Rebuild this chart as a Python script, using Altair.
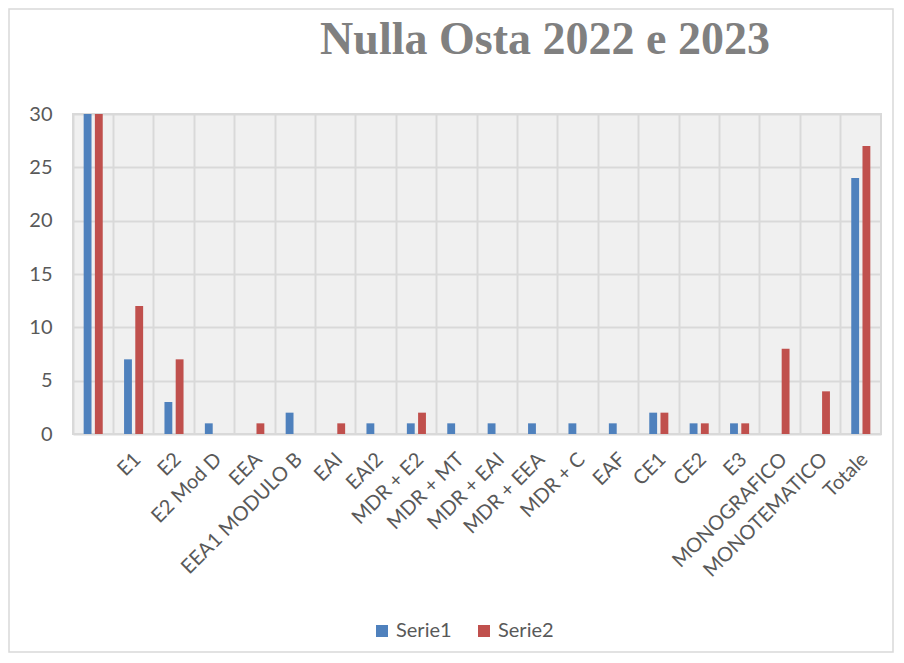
import altair as alt
import pandas as pd

chart_title = "Nulla Osta 2022 e 2023"
categories = ["", "E1", "E2", "E2 Mod D", "EEA", "EEA1 MODULO B", "EAI", "EAI2",
              "MDR + E2", "MDR + MT", "MDR + EAI", "MDR + EEA", "MDR + C", "EAF",
              "CE1", "CE2", "E3", "MONOGRAFICO", "MONOTEMATICO", "Totale"]
serie1 = [34, 7, 3, 1, 0, 2, 0, 1, 1, 1, 1, 1, 1, 1, 2, 1, 1, 0, 0, 24]
serie2 = [36, 12, 7, 0, 1, 0, 1, 0, 2, 0, 0, 0, 0, 0, 2, 1, 1, 8, 4, 27]
series_names = ["Serie1", "Serie2"]
colors = ["#4F81BD", "#C0504D"]

rows = []
for i, c in enumerate(categories):
    rows.append({"cat": c, "serie": series_names[0], "val": serie1[i]})
    rows.append({"cat": c, "serie": series_names[1], "val": serie2[i]})
df = pd.DataFrame(rows)

font = "Lato"
bars = alt.Chart(df).mark_bar(clip=True).encode(
    x=alt.X("cat:N", sort=categories, title=None,
            scale=alt.Scale(paddingInner=0, paddingOuter=0),
            axis=alt.Axis(labelAngle=-45, labelAlign="right", labelBaseline="middle",
                          labelFontSize=20, labelColor="#595959", labelFont=font,
                          ticks=False, domain=False, grid=True, bandPosition=0,
                          gridColor="#d9d9d9", gridWidth=2, labelPadding=22,
                          labelOffset=4, labelOverlap=False)),
    xOffset=alt.XOffset("serie:N", sort=series_names,
                        scale=alt.Scale(paddingInner=0.3, paddingOuter=0.95)),
    y=alt.Y("val:Q", title=None,
            scale=alt.Scale(domain=[0, 30], nice=False),
            axis=alt.Axis(values=[0, 5, 10, 15, 20, 25, 30], labelFontSize=20,
                          labelColor="#595959", labelFont=font, ticks=False,
                          domain=False, gridColor="#d9d9d9", gridWidth=2,
                          labelPadding=21, minExtent=65, maxExtent=65)),
    color=alt.Color("serie:N", sort=series_names,
                    scale=alt.Scale(domain=series_names, range=colors),
                    legend=alt.Legend(title=None, orient="none", direction="horizontal",
                                      legendX=299, legendY=507,
                                      symbolType="square", symbolSize=144,
                                      symbolStrokeWidth=0,
                                      labelFontSize=20, labelColor="#595959",
                                      labelFont=font, columnPadding=22)),
)

one = pd.DataFrame({"t": [chart_title]})

frame = alt.Chart(one).mark_rect(
    fill=None, stroke="#d9d9d9", strokeWidth=1.5, clip=False
).encode(
    x=alt.value(-64), x2=alt.value(820), y=alt.value(-105), y2=alt.value(538)
)

title_mark = alt.Chart(one).mark_text(
    font="Liberation Serif", fontSize=46, fontWeight="bold", color="#808080",
    align="center", baseline="alphabetic", clip=False
).encode(
    text="t:N", x=alt.value(472), y=alt.value(-60)
)

chart = alt.layer(frame, title_mark, bars).properties(
    width=808, height=320,
    padding={"left": 0, "top": 0, "right": 0, "bottom": 0},
).configure_view(fill="#f0f0f0", stroke="#d9d9d9", strokeWidth=2)

chart.save("out.html", embed_options={"renderer": "svg", "actions": False})
